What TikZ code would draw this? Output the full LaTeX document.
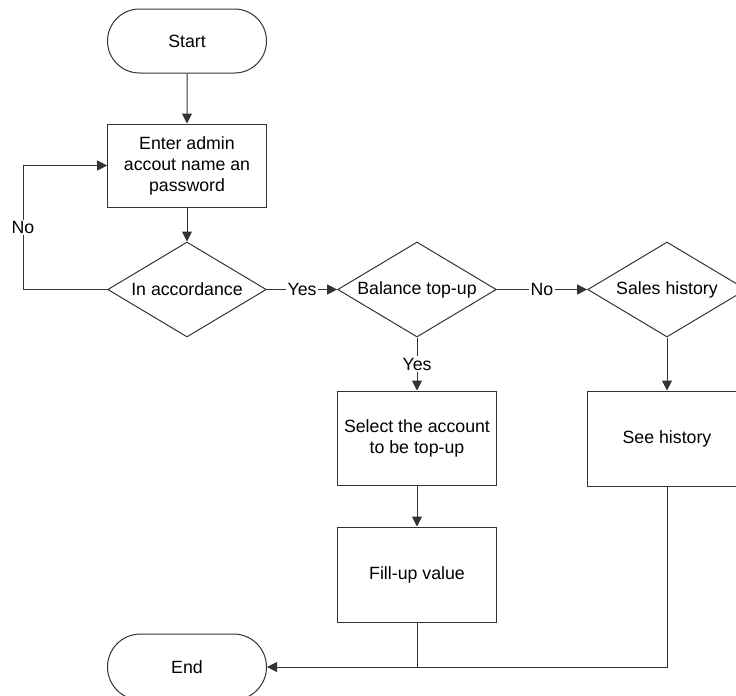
\documentclass[tikz,border=0pt]{standalone}
\usepackage{fontspec}
\setmainfont{Liberation Sans}
\usetikzlibrary{shapes.geometric,shapes.misc,arrows.meta}
\begin{document}
\begin{tikzpicture}[x=0.75pt,y=-0.75pt,
  txt/.style={font=\fontsize{13.3}{15.75}\selectfont, text=black},
  line/.style={draw=black!80, line width=0.75pt},
  arr/.style={line, -{Triangle[length=7.5pt,width=7.5pt]}},
  term/.style={line, txt, rounded rectangle, minimum width=119.25pt, minimum height=48pt, inner sep=0pt},
  proc/.style={line, txt, rectangle, minimum width=119pt, inner sep=0pt, align=center},
  dec/.style={line, txt, diamond, aspect=1.68, minimum width=119pt, minimum height=71.25pt, inner sep=0pt},
  lab/.style={txt, fill=white, inner sep=1pt}]
\useasboundingbox (0,0) rectangle (736,696);
\clip (0,0) rectangle (736,696);
\node[term] (start) at (187,41) {Start};
\node[proc, minimum height=62.25pt] (enter) at (187,165.5) {Enter admin\\accout name an\\password};
\node[dec] (acc) at (187,289.5) {In accordance};
\node[dec] (bal) at (417,289.5) {Balance top-up};
\node[dec] (sales) at (667,289.5) {Sales history};
\node[proc, minimum height=70.5pt] (select) at (417,438) {Select the account\\to be top-up};
\node[proc, minimum height=71.25pt] (fill) at (417,574.5) {Fill-up value};
\node[proc, minimum height=71.25pt] (see) at (667,438.5) {See history};
\node[term, minimum height=49.5pt] (end) at (187,667) {End};
\coordinate (lp) at (23,289.5);
\coordinate (lq) at (23,165.5);
\draw[arr] (start) -- (enter);
\draw[arr] (enter) -- (acc);
\draw[arr] (acc.west) -- (lp) -- node[lab]{No} (lq) -- (enter.west);
\draw[arr] (acc.east) -- node[lab]{Yes} (bal.west);
\draw[arr] (bal.east) -- node[lab]{No} (sales.west);
\draw[arr] (bal.south) -- node[lab]{Yes} (select.north);
\draw[arr] (select) -- (fill);
\draw[arr] (sales) -- (see);
\draw[arr] (see.south) |- (end.east);
\draw[line] (fill.south) -- (fill.south |- end.east);
\end{tikzpicture}
\end{document}
